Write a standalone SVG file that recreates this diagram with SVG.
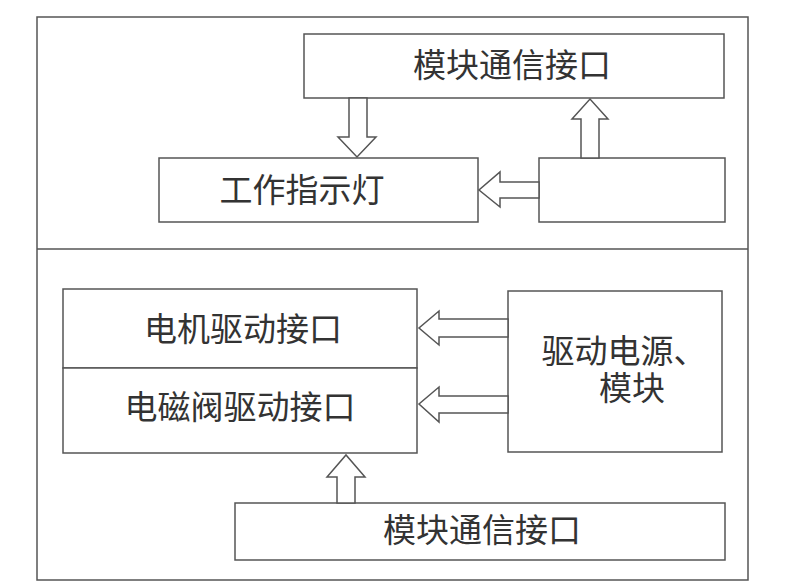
<svg xmlns="http://www.w3.org/2000/svg" width="797" height="585" viewBox="0 0 797 585">
<style>
.b{fill:#fff;stroke:#555;stroke-width:1.5}
.a{fill:#fff;stroke:#555;stroke-width:1.5;stroke-linejoin:miter}
.t{font-family:"Noto Sans CJK SC","Noto Sans",sans-serif;font-size:33px;fill:#333;text-anchor:middle}
</style>
<rect x="0" y="0" width="797" height="585" fill="#fff"/>
<g id="frame">
<rect class="b" x="37" y="17" width="711" height="563"/>
<line x1="37" y1="249" x2="748" y2="249" stroke="#555" stroke-width="1.5"/>
</g>
<g id="top-comm">
<rect class="b" x="304" y="34" width="420" height="64"/>
<text class="t" x="512" y="77">模块通信接口</text>
</g>
<g id="indicator">
<rect class="b" x="159" y="158" width="319" height="64"/>
<text class="t" x="302" y="202">工作指示灯</text>
</g>
<g id="blank-box">
<rect class="b" x="539" y="158" width="186" height="64"/>
</g>
<g id="motor">
<rect class="b" x="63" y="289" width="354" height="79"/>
<text class="t" x="243" y="341">电机驱动接口</text>
</g>
<g id="valve">
<rect class="b" x="63" y="368" width="354" height="85"/>
<text class="t" x="240" y="419">电磁阀驱动接口</text>
</g>
<g id="power">
<rect class="b" x="508" y="291" width="214" height="161"/>
<text class="t" x="624" y="363">驱动电源、</text>
<text class="t" x="632" y="400">模块</text>
</g>
<g id="bottom-comm">
<rect class="b" x="235" y="503" width="490" height="57"/>
<text class="t" x="482" y="542">模块通信接口</text>
</g>
<g id="connectors">
<polygon class="a" points="349,98 367,98 367,137 376,137 357,157 338,137 349,137"/>
<polygon class="a" points="581,158 599,158 599,119 608,119 590,99 572,119 581,119"/>
<polygon class="a" points="539,182 539,198 500,198 500,207 479,190 500,172 500,182"/>
<polygon class="a" points="508,319 508,337 439,337 439,345 419,328 439,311 439,319"/>
<polygon class="a" points="508,396 508,413 439,413 439,422 419,404 439,387 439,396"/>
<polygon class="a" points="337,503 355,503 355,477 365,477 346,455 327,477 337,477"/>
</g>
</svg>
